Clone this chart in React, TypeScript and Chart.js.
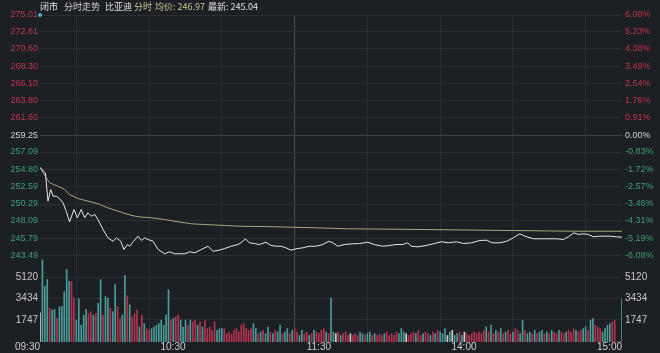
import React, { useEffect, useRef } from "react";
import { Chart, registerables } from "chart.js";

Chart.register(...registerables);

// ---------- data ----------
const prevClose = 259.25;
const priceTicks = [243.49, 245.79, 248.09, 250.29, 252.59, 254.8, 257.09, 259.25, 261.6, 263.8, 266.1, 268.3, 270.6, 272.81, 275.01];
const pctLabels = ["-6.08%", "-5.19%", "-4.31%", "-3.46%", "-2.57%", "-1.72%", "-0.83%", "0.00%", "0.91%", "1.76%", "2.64%", "3.49%", "4.38%", "5.23%", "6.08%"];
const volumeTicks = [1747, 3434, 5120];
const volumeMax = 6807;
const gridMinutes = [0, 30, 60, 90, 120, 150, 180, 210, 240];
const timeLabelMinutes = [0, 60, 120, 180, 240];
const timeLabelTexts = ["09:30", "10:30", "11:30", "14:00", "15:00"];

const priceMinutes = [
  0, 2.2, 3.3, 4.4, 5.4, 6.7, 7.7, 9.5, 10.8, 12.2,
  14.0, 15.4, 17.0, 18.4, 19.8, 21.2, 22.6, 23.9, 26.0, 28.0,
  30.1, 31.5, 33.3, 34.6, 36.0, 37.0, 38.4, 40.4, 41.8, 43.2,
  44.5, 46.6, 48.7, 51.4, 53.5, 55.5, 59.7, 61.7, 63.8, 66.5,
  69.3, 71.3, 73.4, 76.2, 78.9, 81.6, 82.9, 84.7, 86.3, 88.4,
  90.4, 93.2, 95.3, 97.3, 99.4, 101.4, 103.5, 105.6, 108.3, 111.1,
  113.8, 116.6, 119.1, 120.7, 122.8, 125.5, 128.9, 131.7, 135.1, 137.9,
  141.3, 144.0, 146.8, 149.6, 151.6, 153.0, 155.8, 159.2, 162.6, 165.6,
  168.4, 171.8, 174.6, 178.0, 181.4, 184.2, 186.3, 189.7, 192.5, 195.2,
  197.9, 200.0, 203.4, 208.9, 213.1, 215.8, 217.9, 220.2, 222.0, 224.0,
  226.1, 228.2, 230.9, 235.1, 237.8, 240,
];
const priceValues = [
  255.06, 254.37, 250.66, 252.19, 251.31, 251.31, 251.10, 250.45, 249.35, 247.96,
  249.57, 248.49, 249.57, 248.49, 249.14, 248.69, 248.92, 248.26, 246.95, 245.87,
  245.42, 245.87, 245.42, 244.34, 244.99, 244.77, 245.35, 246.08, 245.52, 245.87,
  245.65, 245.42, 244.34, 243.78, 244.04, 243.78, 243.78, 244.04, 243.91, 244.34,
  244.77, 244.12, 244.21, 244.47, 244.77, 244.99, 245.22, 245.74, 245.22, 245.12,
  244.99, 245.29, 244.86, 244.77, 244.77, 244.56, 244.25, 244.43, 244.56, 244.77,
  244.77, 244.99, 245.42, 245.22, 244.77, 244.99, 245.08, 245.12, 245.29, 244.99,
  244.77, 244.86, 244.99, 244.99, 245.22, 244.77, 244.69, 244.86, 245.12, 245.35,
  245.22, 245.35, 245.12, 245.22, 245.52, 245.56, 245.22, 245.22, 245.42, 245.87,
  246.39, 246.08, 245.74, 245.74, 245.74, 245.65, 246.00, 246.52, 246.30, 246.39,
  246.30, 246.00, 246.08, 246.08, 246.00, 245.95,
];

const avgMinutes = [0, 2.6, 4.0, 7.4, 10.2, 12.2, 15.7, 19.8, 23.9, 28.0, 32.2, 36.3, 40.4, 45.9, 51.4, 56.9, 62.4, 67.9, 76.2, 81.6, 97.3, 113.1, 126.9, 159.2, 183.5, 220.6, 240];
const avgValues = [255.06, 253.72, 253.06, 252.62, 252.19, 251.53, 251.01, 250.66, 250.32, 249.79, 249.35, 248.92, 248.62, 248.49, 248.26, 247.96, 247.70, 247.61, 247.48, 247.39, 247.31, 247.18, 247.05, 246.95, 246.86, 246.73, 246.73];

// one bar per minute (0..240)
const volumeValues = [
  2300, 6500, 4400, 4950, 2670, 2530, 2580, 1860, 2800, 2800,
  4000, 5750, 4800, 4800, 3470, 1730, 3410, 1330, 2130, 2580,
  2260, 2400, 2130, 2260, 3070, 4940, 2130, 3600, 3470, 2670,
  2400, 4540, 2800, 1860, 2130, 5270, 3660, 2930, 2000, 2260,
  2530, 1190, 2130, 1460, 1060, 920, 1060, 1190, 1330, 1460,
  1730, 1330, 2130, 4140, 1730, 1860, 2000, 2130, 1730, 1190,
  1730, 1330, 1730, 1600, 1730, 1330, 1600, 1190, 1730, 1060,
  1190, 920, 1600, 920, 1060, 1060, 1060, 660, 790, 600,
  920, 1060, 790, 1330, 1460, 1060, 920, 1060, 1460, 1060,
  660, 790, 920, 660, 1190, 790, 660, 920, 790, 1330,
  660, 790, 1060, 660, 920, 1060, 790, 520, 920, 660,
  790, 520, 660, 920, 790, 660, 920, 1060, 790, 660,
  3470, 790, 660, 790, 520, 660, 790, 520, 660, 520,
  660, 520, 790, 660, 520, 660, 790, 520, 660, 520,
  660, 520, 660, 790, 520, 660, 520, 790, 660, 1060,
  790, 660, 520, 660, 790, 660, 920, 520, 660, 790,
  660, 520, 790, 660, 920, 790, 660, 1060, 520, 790,
  920, 520, 660, 790, 520, 790, 660, 520, 660, 790,
  660, 790, 660, 920, 1190, 790, 1330, 660, 920, 790,
  1060, 660, 790, 920, 660, 790, 1060, 920, 660, 1730,
  920, 660, 790, 660, 920, 660, 790, 920, 660, 790,
  660, 920, 790, 660, 920, 790, 660, 790, 920, 790,
  1060, 920, 790, 920, 1060, 1190, 920, 1730, 1860, 1330,
  1190, 1060, 790, 1060, 1330, 1460, 1600, 1730, 0, 0,
  3400,
];
// 1 = up (red), -1 = down (teal), 0 = flat (white)
const volumeDirs = [
  0, -1, -1, -1, 1, -1, -1, 1, -1, -1,
  -1, -1, -1, 1, 1, -1, -1, -1, -1, -1,
  1, 1, -1, 1, -1, -1, 1, -1, -1, 1,
  -1, -1, 1, 1, -1, -1, 1, -1, 1, 1,
  1, -1, 1, -1, 1, 1, -1, -1, -1, -1,
  -1, -1, -1, -1, 1, -1, 1, 1, -1, -1,
  -1, 1, -1, 1, 1, -1, 1, -1, 1, 1,
  1, 1, 1, -1, -1, -1, 1, 1, 1, 1,
  1, 1, 1, 1, 1, 1, 1, 1, -1, -1,
  1, -1, 1, -1, -1, 1, -1, 1, -1, -1,
  1, -1, -1, 1, -1, 1, 1, -1, -1, 1,
  1, -1, 1, -1, 1, 1, 1, 1, -1, 1,
  -1, -1, 0, 1, -1, 1, 1, 1, 0, 1,
  1, 1, -1, -1, 1, -1, -1, 1, -1, 1,
  1, 1, -1, 1, 1, 1, 1, 1, -1, -1,
  -1, 0, 1, 1, 1, -1, 1, 1, -1, 1,
  1, -1, 1, -1, 1, -1, -1, -1, 0, -1,
  0, -1, -1, 1, -1, 0, 1, 1, 1, 1,
  1, 1, 1, 1, -1, 1, -1, 1, -1, 1,
  -1, 1, -1, 1, 1, -1, 1, 1, -1, -1,
  1, -1, -1, 1, -1, 1, -1, -1, 1, -1,
  1, -1, 1, 1, -1, 1, 1, -1, 1, 1,
  1, -1, 1, 1, -1, -1, 1, -1, -1, 1,
  1, 1, -1, -1, -1, -1, 1, 1, 0, 0,
  -1,
];

// ---------- styles ----------
const BG = "#1c1f23";
const GRID = "#2b2e33";
const GRID_MID = "#3d4045";
const GRID_NOON = "#4b4e53";
const UP = "#c0364f";
const DOWN = "#3f9e7b";
const FLAT = "#d4d4d4";
const BAR_UP = "#b2344f";
const BAR_DOWN = "#4c9c98";
const BAR_FLAT = "#d0d0d0";
const FONT = "'Liberation Sans', Arial, sans-serif";

export default function App() {
  const canvasRef = useRef<HTMLCanvasElement | null>(null);

  useEffect(() => {
    if (!canvasRef.current) return;
    const priceColor = (v: number) => (Math.abs(v - prevClose) < 0.001 ? FLAT : v > prevClose ? UP : DOWN);
    const chart = new Chart(canvasRef.current, {
      type: "line",
      data: {
        datasets: [
          {
            type: "line",
            data: priceMinutes.map((m, i) => ({ x: m, y: priceValues[i] })),
            yAxisID: "y",
            borderColor: "#e6e6e6",
            borderWidth: 1,
            pointRadius: 0,
            tension: 0,
          },
          {
            type: "line",
            data: avgMinutes.map((m, i) => ({ x: m, y: avgValues[i] })),
            yAxisID: "y",
            borderColor: "#a9a77c",
            borderWidth: 1,
            pointRadius: 0,
            tension: 0,
          },
          {
            type: "bar",
            data: volumeValues.map((v, i) => ({ x: i, y: v })),
            yAxisID: "yv",
            backgroundColor: volumeDirs.map((d) => (d > 0 ? BAR_UP : d < 0 ? BAR_DOWN : BAR_FLAT)),
            borderWidth: 0,
            barThickness: 1,
          },
          {
            type: "scatter",
            data: [{ x: 0, y: priceTicks[priceTicks.length - 1] }],
            yAxisID: "y",
            pointStyle: "rectRot",
            pointRadius: 2.5,
            backgroundColor: "#4fb4c8",
            borderWidth: 0,
            clip: false,
          },
        ] as any,
      },
      options: {
        animation: false,
        responsive: false,
        events: [],
        layout: { padding: { top: 15, left: 0, right: 0, bottom: 0 } },
        plugins: { legend: { display: false }, tooltip: { enabled: false }, title: { display: false } },
        scales: {
          x: {
            type: "linear",
            min: 0,
            max: 240,
            offset: false,
            afterBuildTicks: (s: any) => {
              s.ticks = gridMinutes.map((v) => ({ value: v }));
            },
            afterFit: (s: any) => {
              s.height = 11;
            },
            ticks: {
              align: "end",
              autoSkip: false,
              maxRotation: 0,
              padding: 0,
              color: "#d0d0d0",
              font: { family: FONT, size: 10, lineHeight: 1 },
              callback: (v: any) => {
                const k = timeLabelMinutes.indexOf(Number(v));
                return k >= 0 ? timeLabelTexts[k] : "";
              },
            },
            grid: {
              drawTicks: false,
              color: (ctx: any) => (ctx.tick && ctx.tick.value === 120 ? GRID_NOON : GRID),
            },
            border: { display: false },
          },
          y: {
            type: "linear",
            position: "left",
            stack: "left",
            stackWeight: 241,
            weight: 2,
            min: priceTicks[0],
            max: priceTicks[priceTicks.length - 1],
            afterBuildTicks: (s: any) => {
              s.ticks = priceTicks.map((v) => ({ value: v }));
            },
            afterFit: (s: any) => {
              s.width = 40;
            },
            ticks: {
              autoSkip: false,
              padding: 2,
              font: { family: FONT, size: 9 },
              color: (ctx: any) => priceColor(ctx.tick.value),
              callback: (v: any) => Number(v).toFixed(2),
            },
            grid: {
              drawTicks: false,
              color: (ctx: any) => (ctx.tick && Math.abs(ctx.tick.value - prevClose) < 0.001 ? GRID_MID : GRID),
            },
            border: { display: false },
          },
          yv: {
            type: "linear",
            position: "left",
            stack: "left",
            stackWeight: 86,
            weight: 1,
            min: 0,
            max: volumeMax,
            afterBuildTicks: (s: any) => {
              s.ticks = volumeTicks.map((v) => ({ value: v }));
            },
            afterFit: (s: any) => {
              s.width = 40;
            },
            ticks: {
              autoSkip: false,
              padding: 2,
              color: "#c8c8c8",
              font: { family: FONT, size: 10 },
              callback: (v: any) => String(v),
            },
            grid: { drawTicks: false, color: GRID },
            border: { display: false },
          },
          yp: {
            type: "linear",
            position: "right",
            stack: "right",
            stackWeight: 241,
            weight: 1,
            min: priceTicks[0],
            max: priceTicks[priceTicks.length - 1],
            afterBuildTicks: (s: any) => {
              s.ticks = priceTicks.map((v) => ({ value: v }));
            },
            afterFit: (s: any) => {
              s.width = 38;
            },
            ticks: {
              autoSkip: false,
              padding: 3,
              font: { family: FONT, size: 9 },
              color: (ctx: any) => priceColor(ctx.tick.value),
              callback: (_v: any, i: number) => pctLabels[i],
            },
            grid: { display: false, drawTicks: false },
            border: { display: false },
          },
          yv2: {
            type: "linear",
            position: "right",
            stack: "right",
            stackWeight: 86,
            weight: 2,
            min: 0,
            max: volumeMax,
            afterBuildTicks: (s: any) => {
              s.ticks = volumeTicks.map((v) => ({ value: v }));
            },
            afterFit: (s: any) => {
              s.width = 38;
            },
            ticks: {
              autoSkip: false,
              padding: 3,
              color: "#c8c8c8",
              font: { family: FONT, size: 10 },
              callback: (v: any) => String(v),
            },
            grid: { display: false, drawTicks: false },
            border: { display: false },
          },
        } as any,
      },
    });
    return () => chart.destroy();
  }, []);

  const cjk = "'Noto Sans CJK SC', 'Liberation Sans', sans-serif";
  const titleStyle = (left: number, color: string): React.CSSProperties => ({
    position: "absolute",
    left,
    top: 2,
    fontSize: 9,
    lineHeight: "10px",
    fontFamily: cjk,
    color,
    whiteSpace: "nowrap",
  });

  return (
    <div
      style={{
        position: "fixed",
        left: 0,
        top: 0,
        width: 660,
        height: 353,
        background: BG,
        overflow: "hidden",
      }}
    >
      <canvas ref={canvasRef} width={660} height={353} style={{ display: "block", width: 660, height: 353 }} />
      <span style={titleStyle(40, "#e6e6e6")}>闭市</span>
      <span style={titleStyle(64, "#d0d0d0")}>分时走势</span>
      <span style={titleStyle(105, "#e0e0e0")}>比亚迪</span>
      <span style={titleStyle(134, "#c8c78f")}>分时</span>
      <span style={titleStyle(155, "#c8c78f")}>均价: 246.97</span>
      <span style={titleStyle(208, "#e0e0e0")}>最新: 245.04</span>
    </div>
  );
}
